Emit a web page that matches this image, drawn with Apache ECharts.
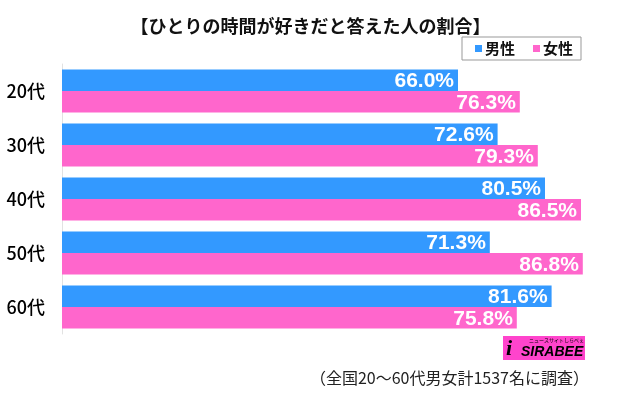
<!DOCTYPE html>
<html>
<head>
<meta charset="utf-8">
<script src="https://cdn.jsdelivr.net/npm/echarts@6/dist/echarts.min.js"></script>
<style>
  html, body { margin: 0; padding: 0; background: #fff; }
  #chart { width: 621px; height: 397px; }
</style>
</head>
<body>
<div id="chart"></div>
<script>
// データ
const categories = ['20代', '30代', '40代', '50代', '60代']
const male = [66.0, 72.6, 80.5, 71.3, 81.6]
const female = [76.3, 79.3, 86.5, 86.8, 75.8]
const seriesNames = ['男性', '女性']

const jpFont = '"Noto Sans CJK JP", sans-serif'
const blue = '#3399ff'
const pink = '#ff66cc'

const chart = echarts.init(document.getElementById('chart'))

const valueLabel = {
  show: true,
  position: 'insideRight',
  distance: 4,
  offset: [0, 1],
  color: '#fff',
  fontFamily: '"Liberation Sans", Arial, sans-serif',
  fontWeight: 'bold',
  fontSize: 21,
  formatter: (p) => p.value.toFixed(1) + '%'
}

const option = {
  animation: false,
  backgroundColor: '#fff',
  title: {
    text: '【ひとりの時間が好きだと答えた人の割合】',
    left: 'center',
    top: 17,
    padding: 0,
    textStyle: {
      fontFamily: jpFont,
      fontWeight: 'bold',
      fontSize: 18,
      color: '#111'
    }
  },
  legend: {
    data: seriesNames,
    left: 462,
    top: 37,
    padding: [4, 8, 4, 13],
    itemGap: 18,
    itemWidth: 7,
    itemHeight: 7,
    itemStyle: { borderWidth: 0 },
    icon: 'rect',
    borderColor: '#999',
    borderWidth: 1,
    textStyle: {
      fontFamily: jpFont,
      fontWeight: 'bold',
      fontSize: 15,
      color: '#111',
      padding: [0, 0, 0, -2]
    }
  },
  grid: {
    left: 62,
    top: 64,
    width: 540,
    height: 270,
    containLabel: false
  },
  xAxis: {
    type: 'value',
    min: 0,
    max: 90,
    show: false
  },
  yAxis: {
    type: 'category',
    data: categories,
    inverse: true,
    axisLine: { show: true, lineStyle: { color: '#e2e2e2', width: 1 } },
    axisTick: { show: false },
    axisLabel: {
      margin: 17,
      fontFamily: jpFont,
      fontWeight: 500,
      fontSize: 18,
      color: '#000'
    }
  },
  series: [
    {
      name: seriesNames[0],
      type: 'bar',
      data: male,
      barGap: '0%',
      barCategoryGap: '20%',
      itemStyle: { color: blue },
      label: valueLabel
    },
    {
      name: seriesNames[1],
      type: 'bar',
      data: female,
      itemStyle: { color: pink },
      label: valueLabel
    }
  ],
  graphic: [
    {
      type: 'group',
      left: 503,
      top: 336,
      children: [
        { type: 'rect', shape: { x: 0, y: 0, width: 82, height: 24 }, style: { fill: '#ff44cc' } },
        { type: 'text', x: 3, y: 2, style: { text: 'i', font: 'italic bold 22px "Liberation Serif", serif', fill: '#000' } },
        { type: 'text', x: 26, y: 2, style: { text: 'ニュースサイトしらべぇ', font: '5px ' + jpFont, fill: '#000' } },
        { type: 'text', x: 18, y: 9, style: { text: 'SIRABEE', font: 'italic bold 14px "Liberation Sans", Arial, sans-serif', fill: '#000' } }
      ]
    },
    {
      type: 'text',
      right: 32,
      top: 370,
      style: {
        text: '（全国20～60代男女計1537名に調査）',
        font: '16px ' + jpFont,
        fill: '#222'
      }
    }
  ]
}

chart.setOption(option)
</script>
</body>
</html>
